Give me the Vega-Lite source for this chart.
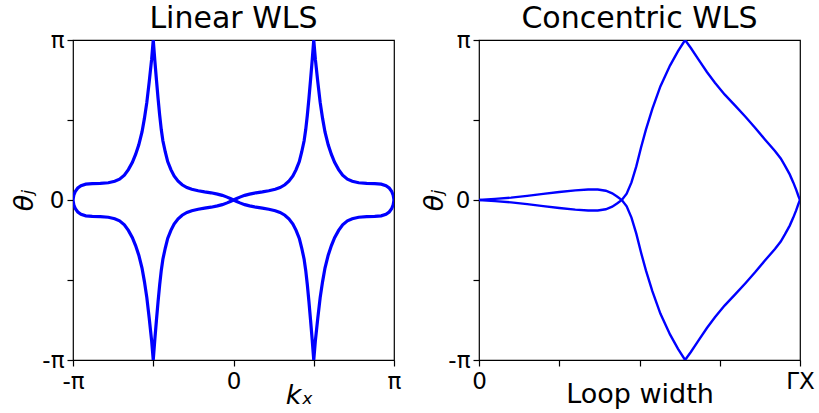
{
  "$schema": "https://vega.github.io/schema/vega-lite/v6.json",
  "padding": {"left": 9, "top": 3, "right": 0, "bottom": 0},
  "background": "white",
  "config": {
    "font": "DejaVu Sans",
    "view": {"stroke": "black", "strokeWidth": 1.2},
    "axis": {
      "domain": false, "grid": false, "tickColor": "black", "tickWidth": 1.2, "tickSize": 6,
      "labelFontSize": 23, "labelColor": "black", "labelFont": "DejaVu Sans", "labelFlush": false,
      "labelOverlap": false, "labelBound": false,
      "titleFontSize": 27, "titleFontWeight": "normal", "titleColor": "black", "titleFont": "DejaVu Sans"
    },
    "title": {"fontSize": 30, "fontWeight": "normal", "color": "black", "font": "DejaVu Sans"}
  },
  "datasets": {
    "linear": [
      {"band":"A","kx":-1,"theta":0},{"band":"A","kx":-0.995,"theta":0.03},{"band":"A","kx":-0.985,"theta":0.055},{"band":"A","kx":-0.97,"theta":0.075},{"band":"A","kx":-0.95,"theta":0.09},{"band":"A","kx":-0.92,"theta":0.099},{"band":"A","kx":-0.88,"theta":0.102},{"band":"A","kx":-0.83,"theta":0.104},{"band":"A","kx":-0.78,"theta":0.108},{"band":"A","kx":-0.74,"theta":0.117},{"band":"A","kx":-0.71,"theta":0.13},{"band":"A","kx":-0.68,"theta":0.155},{"band":"A","kx":-0.655,"theta":0.19},{"band":"A","kx":-0.63,"theta":0.235},{"band":"A","kx":-0.61,"theta":0.285},{"band":"A","kx":-0.59,"theta":0.345},{"band":"A","kx":-0.57,"theta":0.425},{"band":"A","kx":-0.555,"theta":0.51},{"band":"A","kx":-0.54,"theta":0.61},{"band":"A","kx":-0.525,"theta":0.74},{"band":"A","kx":-0.51,"theta":0.88},{"band":"A","kx":-0.5,"theta":1},
      {"band":"A","kx":-0.49,"theta":0.87},{"band":"A","kx":-0.48,"theta":0.75},{"band":"A","kx":-0.47,"theta":0.635},{"band":"A","kx":-0.46,"theta":0.53},{"band":"A","kx":-0.45,"theta":0.44},{"band":"A","kx":-0.44,"theta":0.37},{"band":"A","kx":-0.425,"theta":0.3},{"band":"A","kx":-0.41,"theta":0.24},{"band":"A","kx":-0.39,"theta":0.19},{"band":"A","kx":-0.37,"theta":0.15},{"band":"A","kx":-0.345,"theta":0.118},{"band":"A","kx":-0.32,"theta":0.095},{"band":"A","kx":-0.29,"theta":0.078},{"band":"A","kx":-0.26,"theta":0.067},{"band":"A","kx":-0.22,"theta":0.058},{"band":"A","kx":-0.18,"theta":0.051},{"band":"A","kx":-0.14,"theta":0.045},{"band":"A","kx":-0.1,"theta":0.037},{"band":"A","kx":-0.07,"theta":0.029},{"band":"A","kx":-0.04,"theta":0.018},{"band":"A","kx":-0.02,"theta":0.009},{"band":"A","kx":0,"theta":0},
      {"band":"A","kx":0.02,"theta":-0.009},{"band":"A","kx":0.04,"theta":-0.018},{"band":"A","kx":0.07,"theta":-0.029},{"band":"A","kx":0.1,"theta":-0.037},{"band":"A","kx":0.14,"theta":-0.045},{"band":"A","kx":0.18,"theta":-0.051},{"band":"A","kx":0.22,"theta":-0.058},{"band":"A","kx":0.26,"theta":-0.067},{"band":"A","kx":0.29,"theta":-0.078},{"band":"A","kx":0.32,"theta":-0.095},{"band":"A","kx":0.345,"theta":-0.118},{"band":"A","kx":0.37,"theta":-0.15},{"band":"A","kx":0.39,"theta":-0.19},{"band":"A","kx":0.41,"theta":-0.24},{"band":"A","kx":0.425,"theta":-0.3},{"band":"A","kx":0.44,"theta":-0.37},{"band":"A","kx":0.45,"theta":-0.44},{"band":"A","kx":0.46,"theta":-0.53},{"band":"A","kx":0.47,"theta":-0.635},{"band":"A","kx":0.48,"theta":-0.75},{"band":"A","kx":0.49,"theta":-0.87},{"band":"A","kx":0.5,"theta":-1},
      {"band":"A","kx":0.51,"theta":-0.88},{"band":"A","kx":0.525,"theta":-0.74},{"band":"A","kx":0.54,"theta":-0.61},{"band":"A","kx":0.555,"theta":-0.51},{"band":"A","kx":0.57,"theta":-0.425},{"band":"A","kx":0.59,"theta":-0.345},{"band":"A","kx":0.61,"theta":-0.285},{"band":"A","kx":0.63,"theta":-0.235},{"band":"A","kx":0.655,"theta":-0.19},{"band":"A","kx":0.68,"theta":-0.155},{"band":"A","kx":0.71,"theta":-0.13},{"band":"A","kx":0.74,"theta":-0.117},{"band":"A","kx":0.78,"theta":-0.108},{"band":"A","kx":0.83,"theta":-0.104},{"band":"A","kx":0.88,"theta":-0.102},{"band":"A","kx":0.92,"theta":-0.099},{"band":"A","kx":0.95,"theta":-0.09},{"band":"A","kx":0.97,"theta":-0.075},{"band":"A","kx":0.985,"theta":-0.055},{"band":"A","kx":0.995,"theta":-0.03},{"band":"A","kx":1,"theta":0},

      {"band":"B","kx":-1,"theta":0},{"band":"B","kx":-0.995,"theta":-0.03},{"band":"B","kx":-0.985,"theta":-0.055},{"band":"B","kx":-0.97,"theta":-0.075},{"band":"B","kx":-0.95,"theta":-0.09},{"band":"B","kx":-0.92,"theta":-0.099},{"band":"B","kx":-0.88,"theta":-0.102},{"band":"B","kx":-0.83,"theta":-0.104},{"band":"B","kx":-0.78,"theta":-0.108},{"band":"B","kx":-0.74,"theta":-0.117},{"band":"B","kx":-0.71,"theta":-0.13},{"band":"B","kx":-0.68,"theta":-0.155},{"band":"B","kx":-0.655,"theta":-0.19},{"band":"B","kx":-0.63,"theta":-0.235},{"band":"B","kx":-0.61,"theta":-0.285},{"band":"B","kx":-0.59,"theta":-0.345},{"band":"B","kx":-0.57,"theta":-0.425},{"band":"B","kx":-0.555,"theta":-0.51},{"band":"B","kx":-0.54,"theta":-0.61},{"band":"B","kx":-0.525,"theta":-0.74},{"band":"B","kx":-0.51,"theta":-0.88},{"band":"B","kx":-0.5,"theta":-1},
      {"band":"B","kx":-0.49,"theta":-0.87},{"band":"B","kx":-0.48,"theta":-0.75},{"band":"B","kx":-0.47,"theta":-0.635},{"band":"B","kx":-0.46,"theta":-0.53},{"band":"B","kx":-0.45,"theta":-0.44},{"band":"B","kx":-0.44,"theta":-0.37},{"band":"B","kx":-0.425,"theta":-0.3},{"band":"B","kx":-0.41,"theta":-0.24},{"band":"B","kx":-0.39,"theta":-0.19},{"band":"B","kx":-0.37,"theta":-0.15},{"band":"B","kx":-0.345,"theta":-0.118},{"band":"B","kx":-0.32,"theta":-0.095},{"band":"B","kx":-0.29,"theta":-0.078},{"band":"B","kx":-0.26,"theta":-0.067},{"band":"B","kx":-0.22,"theta":-0.058},{"band":"B","kx":-0.18,"theta":-0.051},{"band":"B","kx":-0.14,"theta":-0.045},{"band":"B","kx":-0.1,"theta":-0.037},{"band":"B","kx":-0.07,"theta":-0.029},{"band":"B","kx":-0.04,"theta":-0.018},{"band":"B","kx":-0.02,"theta":-0.009},{"band":"B","kx":0,"theta":0},
      {"band":"B","kx":0.02,"theta":0.009},{"band":"B","kx":0.04,"theta":0.018},{"band":"B","kx":0.07,"theta":0.029},{"band":"B","kx":0.1,"theta":0.037},{"band":"B","kx":0.14,"theta":0.045},{"band":"B","kx":0.18,"theta":0.051},{"band":"B","kx":0.22,"theta":0.058},{"band":"B","kx":0.26,"theta":0.067},{"band":"B","kx":0.29,"theta":0.078},{"band":"B","kx":0.32,"theta":0.095},{"band":"B","kx":0.345,"theta":0.118},{"band":"B","kx":0.37,"theta":0.15},{"band":"B","kx":0.39,"theta":0.19},{"band":"B","kx":0.41,"theta":0.24},{"band":"B","kx":0.425,"theta":0.3},{"band":"B","kx":0.44,"theta":0.37},{"band":"B","kx":0.45,"theta":0.44},{"band":"B","kx":0.46,"theta":0.53},{"band":"B","kx":0.47,"theta":0.635},{"band":"B","kx":0.48,"theta":0.75},{"band":"B","kx":0.49,"theta":0.87},{"band":"B","kx":0.5,"theta":1},
      {"band":"B","kx":0.51,"theta":0.88},{"band":"B","kx":0.525,"theta":0.74},{"band":"B","kx":0.54,"theta":0.61},{"band":"B","kx":0.555,"theta":0.51},{"band":"B","kx":0.57,"theta":0.425},{"band":"B","kx":0.59,"theta":0.345},{"band":"B","kx":0.61,"theta":0.285},{"band":"B","kx":0.63,"theta":0.235},{"band":"B","kx":0.655,"theta":0.19},{"band":"B","kx":0.68,"theta":0.155},{"band":"B","kx":0.71,"theta":0.13},{"band":"B","kx":0.74,"theta":0.117},{"band":"B","kx":0.78,"theta":0.108},{"band":"B","kx":0.83,"theta":0.104},{"band":"B","kx":0.88,"theta":0.102},{"band":"B","kx":0.92,"theta":0.099},{"band":"B","kx":0.95,"theta":0.09},{"band":"B","kx":0.97,"theta":0.075},{"band":"B","kx":0.985,"theta":0.055},{"band":"B","kx":0.995,"theta":0.03},{"band":"B","kx":1,"theta":0}
    ],
    "concentric": [
      {"band":"P","width":0,"theta":0},{"band":"P","width":0.05,"theta":0.007},{"band":"P","width":0.1,"theta":0.015},{"band":"P","width":0.15,"theta":0.026},{"band":"P","width":0.2,"theta":0.038},{"band":"P","width":0.25,"theta":0.05},{"band":"P","width":0.3,"theta":0.06},{"band":"P","width":0.34,"theta":0.066},{"band":"P","width":0.37,"theta":0.066},{"band":"P","width":0.395,"theta":0.058},{"band":"P","width":0.415,"theta":0.042},{"band":"P","width":0.43,"theta":0.022},{"band":"P","width":0.445,"theta":0},{"band":"P","width":0.46,"theta":-0.04},{"band":"P","width":0.475,"theta":-0.11},{"band":"P","width":0.49,"theta":-0.21},{"band":"P","width":0.505,"theta":-0.33},{"band":"P","width":0.52,"theta":-0.44},{"band":"P","width":0.54,"theta":-0.57},{"band":"P","width":0.565,"theta":-0.71},{"band":"P","width":0.595,"theta":-0.84},{"band":"P","width":0.62,"theta":-0.93},{"band":"P","width":0.642,"theta":-1},{"band":"P","width":0.66,"theta":-0.95},{"band":"P","width":0.683,"theta":-0.88},{"band":"P","width":0.71,"theta":-0.8},{"band":"P","width":0.735,"theta":-0.733},{"band":"P","width":0.765,"theta":-0.66},{"band":"P","width":0.798,"theta":-0.59},{"band":"P","width":0.83,"theta":-0.52},{"band":"P","width":0.86,"theta":-0.452},{"band":"P","width":0.89,"theta":-0.38},{"band":"P","width":0.922,"theta":-0.306},{"band":"P","width":0.94,"theta":-0.26},{"band":"P","width":0.953,"theta":-0.215},{"band":"P","width":0.968,"theta":-0.16},{"band":"P","width":0.979,"theta":-0.11},{"band":"P","width":0.988,"theta":-0.065},{"band":"P","width":0.995,"theta":-0.025},{"band":"P","width":1,"theta":0},
      {"band":"Q","width":0,"theta":0},{"band":"Q","width":0.05,"theta":-0.007},{"band":"Q","width":0.1,"theta":-0.015},{"band":"Q","width":0.15,"theta":-0.026},{"band":"Q","width":0.2,"theta":-0.038},{"band":"Q","width":0.25,"theta":-0.05},{"band":"Q","width":0.3,"theta":-0.06},{"band":"Q","width":0.34,"theta":-0.066},{"band":"Q","width":0.37,"theta":-0.066},{"band":"Q","width":0.395,"theta":-0.058},{"band":"Q","width":0.415,"theta":-0.042},{"band":"Q","width":0.43,"theta":-0.022},{"band":"Q","width":0.445,"theta":0},{"band":"Q","width":0.46,"theta":0.04},{"band":"Q","width":0.475,"theta":0.11},{"band":"Q","width":0.49,"theta":0.21},{"band":"Q","width":0.505,"theta":0.33},{"band":"Q","width":0.52,"theta":0.44},{"band":"Q","width":0.54,"theta":0.57},{"band":"Q","width":0.565,"theta":0.71},{"band":"Q","width":0.595,"theta":0.84},{"band":"Q","width":0.62,"theta":0.93},{"band":"Q","width":0.642,"theta":1},{"band":"Q","width":0.66,"theta":0.95},{"band":"Q","width":0.683,"theta":0.88},{"band":"Q","width":0.71,"theta":0.8},{"band":"Q","width":0.735,"theta":0.733},{"band":"Q","width":0.765,"theta":0.66},{"band":"Q","width":0.798,"theta":0.59},{"band":"Q","width":0.83,"theta":0.52},{"band":"Q","width":0.86,"theta":0.452},{"band":"Q","width":0.89,"theta":0.38},{"band":"Q","width":0.922,"theta":0.306},{"band":"Q","width":0.94,"theta":0.26},{"band":"Q","width":0.953,"theta":0.215},{"band":"Q","width":0.968,"theta":0.16},{"band":"Q","width":0.979,"theta":0.11},{"band":"Q","width":0.988,"theta":0.065},{"band":"Q","width":0.995,"theta":0.025},{"band":"Q","width":1,"theta":0}
    ]
  },
  "bounds": "flush",
  "spacing": 85,
  "hconcat": [
    {
      "width": 321,
      "height": 320,
      "title": {"text": "Linear WLS", "baseline": "alphabetic", "offset": -29},
      "data": {"name": "linear"},
      "mark": {"type": "line", "color": "#0000ff", "strokeWidth": 3.2, "clip": true},
      "encoding": {
        "x": {
          "field": "kx", "type": "quantitative",
          "scale": {"domain": [-1, 1], "nice": false, "zero": false},
          "axis": {
            "values": [-1, -0.5, 0, 0.5, 1],
            "labelExpr": "datum.value == 1 ? 'π' : datum.value == -1 ? '-π' : datum.value == 0 ? '0' : ''",
            "labelPadding": 4,
            "title": "kₓ", "titleFontStyle": "italic",
            "titleX": 226, "titleY": 43, "titleAlign": "center", "titleBaseline": "alphabetic"
          }
        },
        "y": {
          "field": "theta", "type": "quantitative",
          "scale": {"domain": [-1, 1], "nice": false, "zero": false},
          "axis": {
            "values": [-1, -0.5, 0, 0.5, 1],
            "labelExpr": "datum.value == 1 ? 'π' : datum.value == -1 ? '-π' : datum.value == 0 ? '0' : ''",
            "labelPadding": 3,
            "title": "θⱼ", "titleFontStyle": "italic", "titleAngle": -90,
            "titleX": -41, "titleY": 160, "titleAlign": "center", "titleBaseline": "alphabetic"
          }
        },
        "detail": {"field": "band", "type": "nominal"}
      }
    },
    {
      "width": 321,
      "height": 320,
      "title": {"text": "Concentric WLS", "baseline": "alphabetic", "offset": -29},
      "data": {"name": "concentric"},
      "mark": {"type": "line", "color": "#0000ff", "strokeWidth": 2.4, "clip": true},
      "encoding": {
        "x": {
          "field": "width", "type": "quantitative",
          "scale": {"domain": [0, 1], "nice": false, "zero": false},
          "axis": {
            "values": [0, 0.25, 0.5, 0.75, 1],
            "labelExpr": "datum.value == 0 ? '0' : datum.value == 1 ? 'ΓX' : ''",
            "labelPadding": 4,
            "title": "Loop width",
            "titleX": 160.5, "titleY": 42, "titleAlign": "center", "titleBaseline": "alphabetic"
          }
        },
        "y": {
          "field": "theta", "type": "quantitative",
          "scale": {"domain": [-1, 1], "nice": false, "zero": false},
          "axis": {
            "values": [-1, -0.5, 0, 0.5, 1],
            "labelExpr": "datum.value == 1 ? 'π' : datum.value == -1 ? '-π' : datum.value == 0 ? '0' : ''",
            "labelPadding": 3,
            "title": "θⱼ", "titleFontStyle": "italic", "titleAngle": -90,
            "titleX": -37, "titleY": 160, "titleAlign": "center", "titleBaseline": "alphabetic"
          }
        },
        "detail": {"field": "band", "type": "nominal"}
      }
    }
  ]
}
